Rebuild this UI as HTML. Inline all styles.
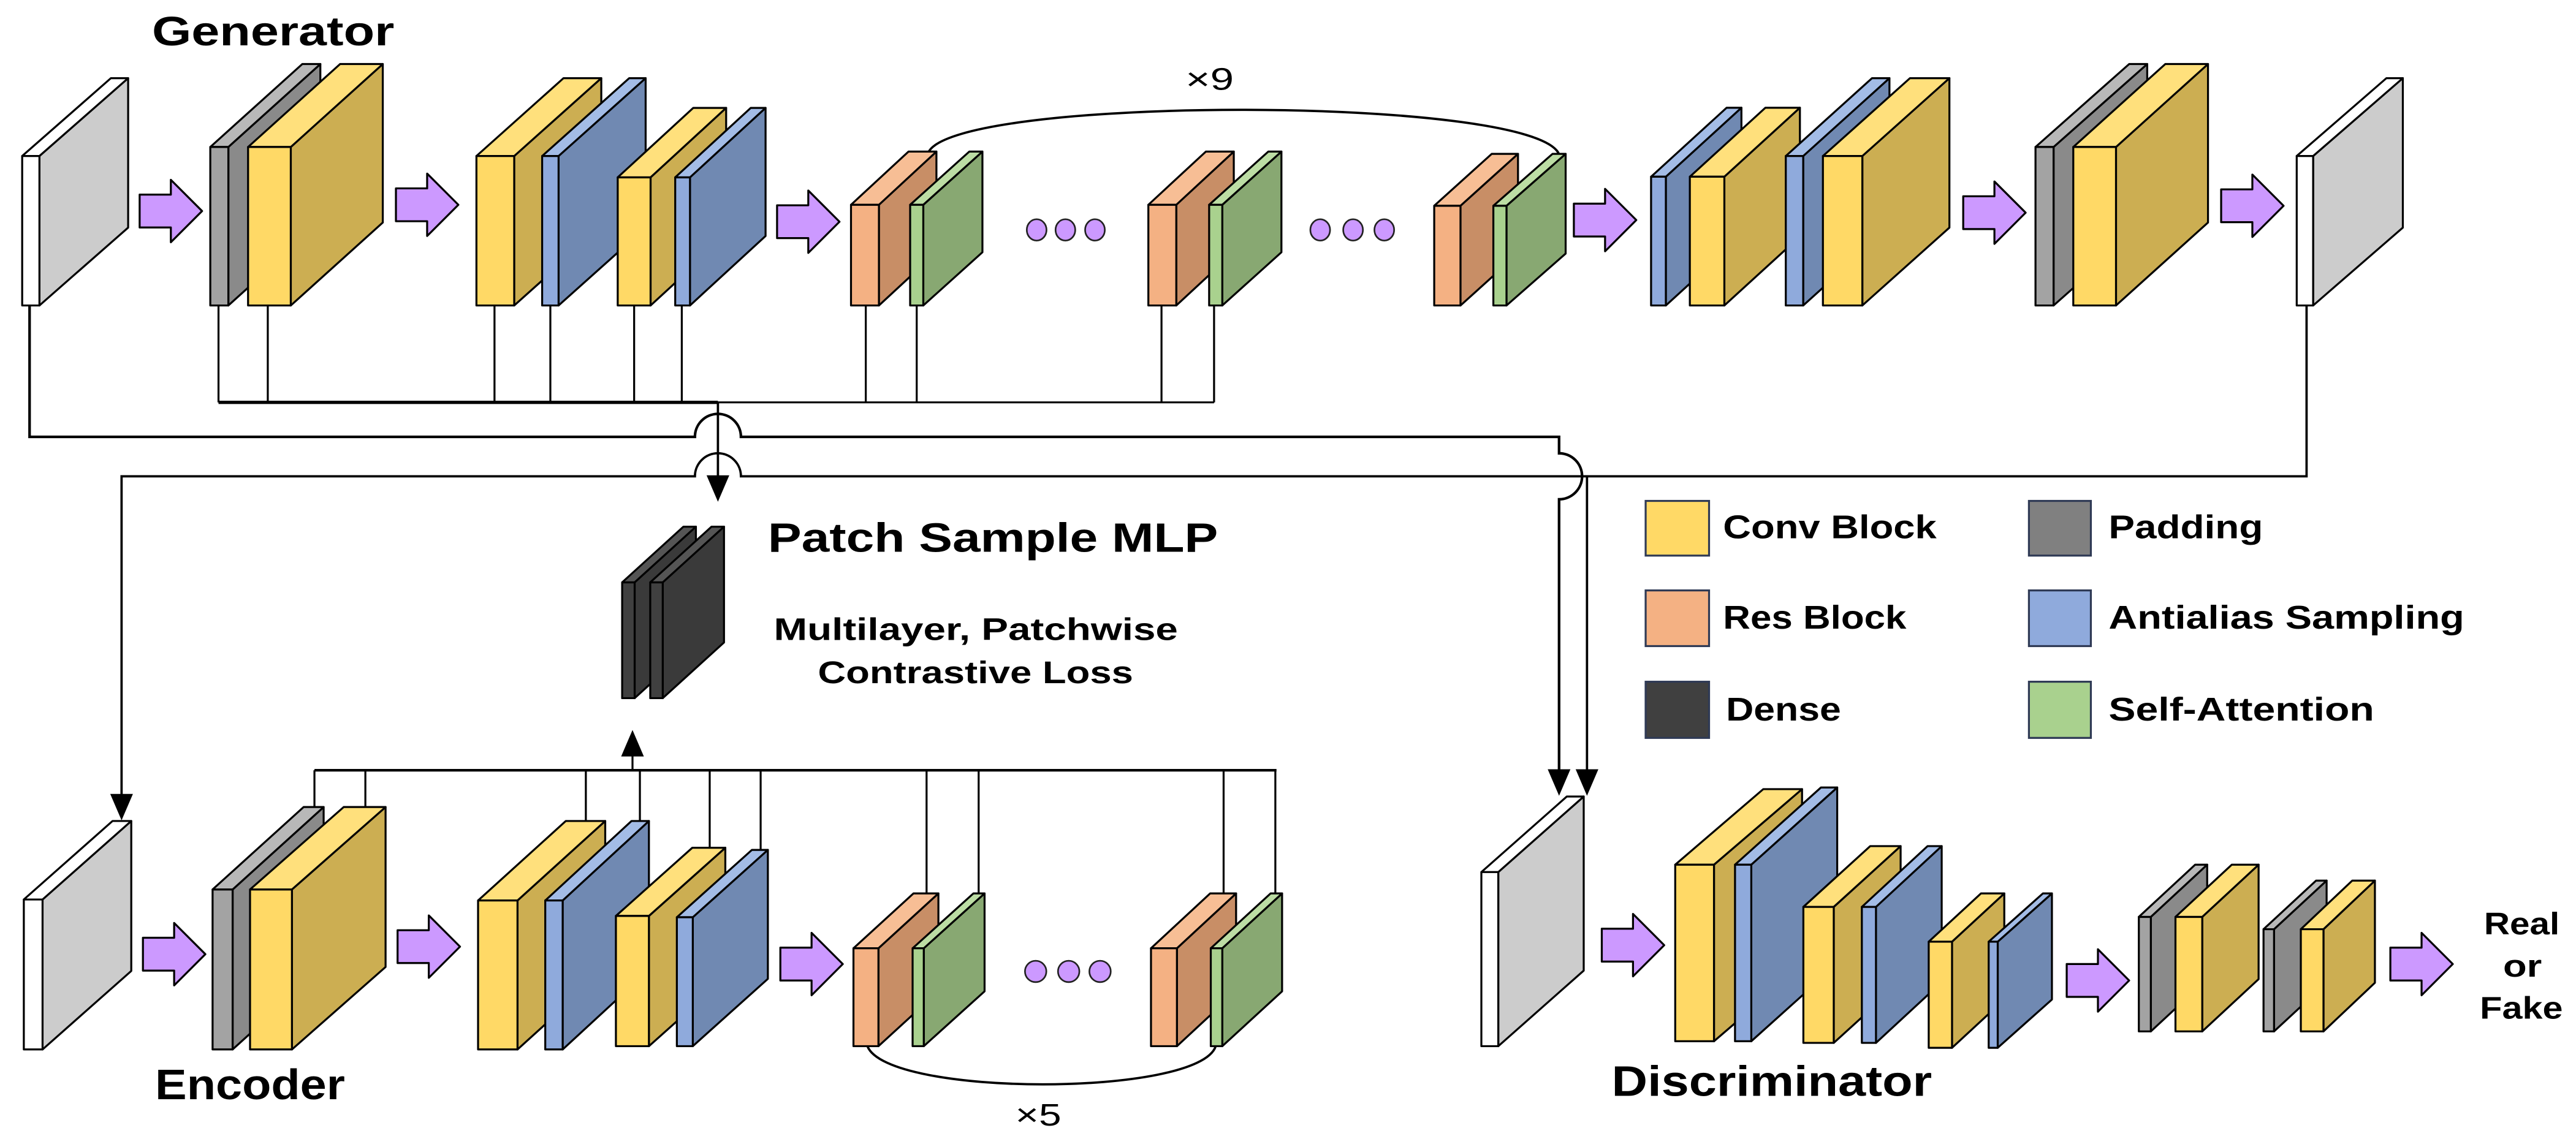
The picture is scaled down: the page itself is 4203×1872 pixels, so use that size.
<!DOCTYPE html>
<html><head><meta charset="utf-8"><style>
html,body{margin:0;padding:0;background:#fff;}
svg{display:block;}
text{font-family:"Liberation Sans",sans-serif;fill:#000;}
</style></head><body>
<svg id="s" width="4203" height="1872" viewBox="0 0 1568 698.4" preserveAspectRatio="none" xmlns="http://www.w3.org/2000/svg">
<g id="lines" fill="none" stroke="#000" stroke-width="1.2">
<path d="M133,186V245M163,186V245M301,186V245M335,186V245M386,186V245M415,186V245M527,186V245M558,186V245M707,186V245M739,186V245M437,245H739" />
<path d="M133,245H437" stroke-width="2"/>
<path d="M437,245V292" stroke-width="1.4"/>
<polygon points="431,290 443,290 437,304" fill="#000"/>
<path d="M18,186V266H423A14,14 0 0 1 451,266H949V276A14,14 0 0 1 949,304V470" stroke-width="1.6"/>
<polygon points="943,469 955,469 949,483" fill="#000"/>
<path d="M1404,186V290H451A14,14 0 0 0 423,290H74V485" stroke-width="1.4"/>
<polygon points="68,484 80,484 74,498" fill="#000"/>
<path d="M966,290V470" stroke-width="1.4"/>
<polygon points="960,469 972,469 966,483" fill="#000"/>
<path d="M191.4,469H777" stroke-width="1.6"/>
<path d="M191.4,469V491M222.4,469V491M356.6,469V500M389.5,469V500M432,469V516M463,469V519M564,469V544M595.7,469V544M744.8,469V544M776.3,469V544"/>
<path d="M385,469V458"/>
<polygon points="379,460 391,460 385,446" fill="#000"/>
<path d="M565,93C580,58 935,58 949,94" stroke-width="1.4"/>
<path d="M528,637C540,668 730,668 740,637" stroke-width="1.4"/>
</g>
<g id="blocks"></g>
<g fill="#CC99FF" stroke="#222" stroke-width="1">
<ellipse cx="631" cy="140" rx="6" ry="6.5"/><ellipse cx="648.5" cy="140" rx="6" ry="6.5"/><ellipse cx="666.5" cy="140" rx="6" ry="6.5"/>
<ellipse cx="803.6" cy="140" rx="6" ry="6.5"/><ellipse cx="823.6" cy="140" rx="6" ry="6.5"/><ellipse cx="842.6" cy="140" rx="6" ry="6.5"/>
<circle cx="630.4" cy="591.5" r="6.5"/><circle cx="650.5" cy="591.5" r="6.5"/><circle cx="669.6" cy="591.5" r="6.5"/>
</g>
<g stroke="#2f3a55" stroke-width="1.2">
<rect x="1001.7" y="305" width="38.6" height="33.3" fill="#FFD966"/>
<rect x="1001.7" y="359.5" width="38.6" height="33.9" fill="#F4B183"/>
<rect x="1001.7" y="415.1" width="38.6" height="34.2" fill="#404040"/>
<rect x="1235" y="305" width="37.7" height="33.3" fill="#808080"/>
<rect x="1235" y="359.5" width="37.7" height="33.9" fill="#8FAADC"/>
<rect x="1235" y="415.1" width="37.7" height="34.2" fill="#A9D18E"/>
</g>
<g font-size="20" font-weight="bold">
<text x="1048.8" y="327.7" textLength="130" lengthAdjust="spacingAndGlyphs">Conv Block</text>
<text x="1048.8" y="382.8" textLength="111.6" lengthAdjust="spacingAndGlyphs">Res Block</text>
<text x="1050.6" y="438.7" textLength="70" lengthAdjust="spacingAndGlyphs">Dense</text>
<text x="1283.5" y="327.7" textLength="94" lengthAdjust="spacingAndGlyphs">Padding</text>
<text x="1283.5" y="382.8" textLength="216.5" lengthAdjust="spacingAndGlyphs">Antialias Sampling</text>
<text x="1283.5" y="438.7" textLength="161.7" lengthAdjust="spacingAndGlyphs">Self-Attention</text>
</g>
<g font-weight="bold">
<text x="92.5" y="27.6" font-size="25" textLength="147.5" lengthAdjust="spacingAndGlyphs">Generator</text>
<text x="94.4" y="669.3" font-size="26" textLength="115.6" lengthAdjust="spacingAndGlyphs">Encoder</text>
<text x="981" y="667.2" font-size="26" textLength="195" lengthAdjust="spacingAndGlyphs">Discriminator</text>
<text x="467.4" y="335.9" font-size="25" textLength="274" lengthAdjust="spacingAndGlyphs">Patch Sample MLP</text>
<text x="471" y="389.7" font-size="19" textLength="246" lengthAdjust="spacingAndGlyphs">Multilayer, Patchwise</text>
<text x="497.8" y="416" font-size="19" textLength="192" lengthAdjust="spacingAndGlyphs">Contrastive Loss</text>
<text x="1512" y="568.9" font-size="19" textLength="46" lengthAdjust="spacingAndGlyphs">Real</text>
<text x="1523.6" y="594.6" font-size="19" textLength="23.6" lengthAdjust="spacingAndGlyphs">or</text>
<text x="1509.5" y="620.3" font-size="19" textLength="50.5" lengthAdjust="spacingAndGlyphs">Fake</text>
</g>
<text x="721.6" y="54.7" font-size="19" textLength="29.4" lengthAdjust="spacingAndGlyphs">×9</text>
<text x="618" y="685.4" font-size="19" textLength="28" lengthAdjust="spacingAndGlyphs">×5</text>
</svg>
<script>
var C={
 w:["#ffffff","#cccccc","#ffffff"],
 g:["#a3a3a3","#8a8a8a","#b8b8b8"],
 y:["#FFD966","#CCAE52","#FFE07C"],
 b:["#8FAADC","#7089B2","#A3BCE6"],
 o:["#F4B183","#C88E66","#F7BE95"],
 n:["#A9D18E","#88A872","#BCDDA4"],
 d:["#404040","#3a3a3a","#555555"]
};
var out="";
function P(pts,f){return '<polygon points="'+pts.map(function(p){return p[0].toFixed(1)+","+p[1].toFixed(1)}).join(" ")+'" fill="'+f+'" stroke="#000" stroke-width="1.2" stroke-linejoin="round"/>';}
function S(x1,x2,t,b,dx,dy,k){var c=C[k];
 out+=P([[x2,t],[x2+dx,t-dy],[x2+dx,b-dy],[x2,b]],c[1]);
 out+=P([[x1,t],[x1+dx,t-dy],[x2+dx,t-dy],[x2,t]],c[2]);
 out+=P([[x1,t],[x2,t],[x2,b],[x1,b]],c[0]);}
function A(x0,cy){var L=38,h=19,s=10,hx=x0+19;
 out+=P([[x0,cy-s],[hx,cy-s],[hx,cy-h],[x0+L,cy],[hx,cy+h],[hx,cy+s],[x0,cy+s]],"#CC99FF");}
S(13.5,24,95,186,54,47.4,"w");
S(128,139,89.5,186,56,50.5,"g");S(151,177,89.5,186,56,50.5,"y");
S(290,313,95,186,53,47.4,"y");S(330,340,95,186,53,47.4,"b");
S(376,396,108,186,46,42.3,"y");S(411,420,108,186,46,42.3,"b");
S(518,535,124.7,186,35,32.4,"o");S(554,562,124.7,186,36,32.4,"n");
S(699,716,124.7,186,35,32.4,"o");S(736,744,124.7,186,36,32.4,"n");
S(873,889,125.3,186,35,31.6,"o");S(909,917,125.3,186,36,31.6,"n");
S(1005,1014,107.6,186,46,42,"b");S(1028.6,1049.6,107.6,186,46,42,"y");
S(1087,1097.6,95,186,52.5,47.4,"b");S(1109.6,1133.6,95,186,53,47.4,"y");
S(1239,1250,89.5,186,57,50.5,"g");S(1262,1288,89.5,186,56,50.5,"y");
S(1398,1408,95,186,54.6,47.4,"w");
A(85,128.5);A(241,124.7);A(473,135);A(958,134);A(1195,129.5);A(1352,125.3);
S(378.7,386.3,354.6,425.1,37.3,33.9,"d");S(395.8,403.4,354.6,425.1,37.3,33.9,"d");
S(14.5,25.9,547.7,639,54,47.8,"w");
S(129.4,141.6,541.6,639,55.4,50.2,"g");S(152.2,177.7,541.6,639,57,50.2,"y");
S(291,315,548.3,639,53.4,48.4,"y");S(331.9,342.5,548.3,639,52.5,48.4,"b");
S(374.9,395,557.7,637,46.5,41.5,"y");S(412,421.7,558.5,637,45.7,41,"b");
S(519.5,534.7,577.4,637,36.5,33.4,"o");S(555.5,562.3,577.4,637,37,33.4,"n");
S(700.6,716.4,577.4,637,36,33.4,"o");S(737,744,577.4,637,36.4,33.4,"n");
A(87,581);A(242,576.4);A(475,587);
S(901.7,912,531,637,52,46,"w");
S(1019.7,1043.3,526.5,634,53.6,46,"y");S(1056.1,1066,526.5,634,52.3,47,"b");
S(1097.7,1116.2,552.2,635,40.7,37,"y");S(1133.3,1141.9,552.2,635,40,37,"b");
S(1174,1188.2,573.4,638,31.8,29.4,"y");S(1210.5,1216,573.4,638,33,29.4,"b");
S(1301.9,1309.2,558.3,628,34.3,31.8,"g");S(1324.2,1340.5,558.3,628,34.3,31.8,"y");
S(1377.8,1384.2,565.8,628,32,29.6,"g");S(1400.5,1414.3,565.8,628,31.3,29.6,"y");
A(975,575.5);A(1258,597);A(1455,587);
document.getElementById("blocks").innerHTML=out;
</script>
</body></html>
